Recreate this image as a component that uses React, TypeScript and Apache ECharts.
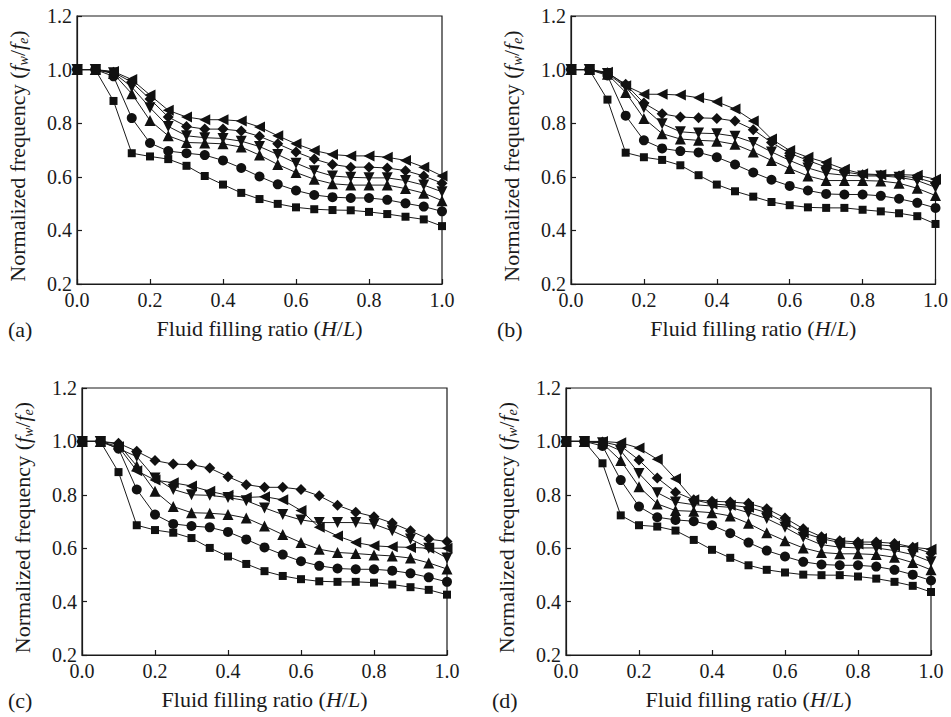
import React, { useEffect, useRef } from "react";
import * as echarts from "echarts";

// Fluid filling ratio H/L
const ratios = [0, 0.05, 0.1, 0.15, 0.2, 0.25, 0.3, 0.35, 0.4, 0.45, 0.5, 0.55, 0.6, 0.65, 0.7, 0.75, 0.8, 0.85, 0.9, 0.95, 1.0];
const xTicks = [0, 0.2, 0.4, 0.6, 0.8, 1.0];
const yTicks = [0.2, 0.4, 0.6, 0.8, 1.0, 1.2];

// Panel (a)
const sqA = [1.0, 1.0, 0.883, 0.688, 0.676, 0.666, 0.641, 0.603, 0.571, 0.540, 0.517, 0.499, 0.486, 0.479, 0.476, 0.475, 0.469, 0.461, 0.451, 0.441, 0.416];
const ciA = [1.0, 1.0, 0.975, 0.819, 0.726, 0.696, 0.688, 0.681, 0.661, 0.633, 0.601, 0.572, 0.549, 0.532, 0.524, 0.521, 0.521, 0.514, 0.501, 0.489, 0.471];
const upA = [1.0, 1.0, 0.985, 0.910, 0.810, 0.753, 0.728, 0.726, 0.723, 0.711, 0.681, 0.646, 0.616, 0.591, 0.574, 0.569, 0.569, 0.569, 0.556, 0.539, 0.511];
const dnA = [1.0, 1.0, 0.988, 0.935, 0.858, 0.788, 0.753, 0.746, 0.743, 0.733, 0.713, 0.683, 0.651, 0.623, 0.603, 0.598, 0.596, 0.596, 0.586, 0.569, 0.544];
const diA = [1.0, 1.0, 0.990, 0.953, 0.890, 0.823, 0.788, 0.778, 0.778, 0.771, 0.751, 0.723, 0.693, 0.666, 0.646, 0.636, 0.636, 0.633, 0.623, 0.603, 0.576];
const ltA = [1.0, 1.0, 0.993, 0.963, 0.905, 0.848, 0.823, 0.813, 0.813, 0.808, 0.786, 0.753, 0.723, 0.698, 0.683, 0.678, 0.678, 0.673, 0.661, 0.636, 0.603];

// Panel (b)
const sqB = [1.0, 1.0, 0.888, 0.690, 0.673, 0.663, 0.643, 0.606, 0.571, 0.546, 0.526, 0.506, 0.494, 0.486, 0.484, 0.484, 0.477, 0.471, 0.464, 0.453, 0.424];
const ciB = [1.0, 1.0, 0.978, 0.828, 0.736, 0.706, 0.696, 0.691, 0.673, 0.646, 0.616, 0.589, 0.566, 0.549, 0.536, 0.534, 0.534, 0.529, 0.518, 0.503, 0.484];
const upB = [1.0, 1.0, 0.983, 0.915, 0.818, 0.761, 0.741, 0.736, 0.733, 0.721, 0.693, 0.661, 0.631, 0.603, 0.586, 0.586, 0.586, 0.584, 0.576, 0.557, 0.530];
const dnB = [1.0, 1.0, 0.985, 0.935, 0.858, 0.798, 0.768, 0.763, 0.761, 0.751, 0.728, 0.693, 0.661, 0.633, 0.613, 0.606, 0.603, 0.603, 0.598, 0.586, 0.561];
const diB = [1.0, 1.0, 0.988, 0.945, 0.875, 0.835, 0.823, 0.820, 0.818, 0.808, 0.776, 0.728, 0.688, 0.661, 0.636, 0.618, 0.608, 0.606, 0.603, 0.596, 0.576];
const ltB = [1.0, 1.0, 0.990, 0.940, 0.908, 0.908, 0.905, 0.895, 0.880, 0.853, 0.808, 0.741, 0.698, 0.673, 0.653, 0.628, 0.611, 0.608, 0.608, 0.606, 0.591];

// Panel (c)
const sqC = [1.0, 1.0, 0.885, 0.686, 0.668, 0.658, 0.638, 0.601, 0.569, 0.541, 0.514, 0.496, 0.484, 0.476, 0.474, 0.474, 0.471, 0.464, 0.454, 0.444, 0.426];
const ciC = [1.0, 1.0, 0.973, 0.820, 0.726, 0.691, 0.683, 0.678, 0.661, 0.633, 0.603, 0.576, 0.551, 0.534, 0.524, 0.521, 0.521, 0.516, 0.506, 0.491, 0.474];
const upC = [1.0, 1.0, 0.990, 0.908, 0.813, 0.756, 0.733, 0.731, 0.726, 0.713, 0.683, 0.651, 0.621, 0.596, 0.584, 0.580, 0.575, 0.571, 0.563, 0.545, 0.522];
const dnC = [1.0, 1.0, 0.973, 0.943, 0.863, 0.820, 0.800, 0.798, 0.790, 0.778, 0.751, 0.726, 0.706, 0.696, 0.696, 0.696, 0.690, 0.665, 0.634, 0.600, 0.563];
const diC = [1.0, 1.0, 0.993, 0.963, 0.928, 0.915, 0.913, 0.900, 0.868, 0.838, 0.828, 0.828, 0.820, 0.796, 0.761, 0.735, 0.718, 0.694, 0.665, 0.634, 0.625];
const ltC = [1.0, 1.0, 0.980, 0.890, 0.855, 0.845, 0.833, 0.813, 0.798, 0.790, 0.793, 0.781, 0.741, 0.678, 0.646, 0.621, 0.609, 0.605, 0.603, 0.600, 0.600];

// Panel (d)
const sqD = [1.0, 1.0, 0.918, 0.723, 0.686, 0.681, 0.666, 0.631, 0.594, 0.564, 0.536, 0.519, 0.509, 0.501, 0.499, 0.499, 0.494, 0.486, 0.474, 0.459, 0.436];
const ciD = [1.0, 1.0, 0.983, 0.855, 0.756, 0.716, 0.706, 0.701, 0.686, 0.656, 0.621, 0.591, 0.569, 0.549, 0.539, 0.536, 0.536, 0.531, 0.519, 0.501, 0.479];
const upD = [1.0, 1.0, 0.993, 0.928, 0.830, 0.766, 0.741, 0.738, 0.733, 0.721, 0.693, 0.658, 0.628, 0.601, 0.584, 0.579, 0.579, 0.576, 0.566, 0.546, 0.519];
const dnD = [1.0, 1.0, 0.995, 0.965, 0.880, 0.808, 0.773, 0.763, 0.758, 0.753, 0.733, 0.711, 0.678, 0.641, 0.613, 0.604, 0.601, 0.601, 0.591, 0.576, 0.549];
const diD = [1.0, 1.0, 0.998, 0.983, 0.930, 0.863, 0.810, 0.781, 0.776, 0.773, 0.768, 0.748, 0.713, 0.673, 0.643, 0.628, 0.623, 0.623, 0.618, 0.604, 0.581];
const ltD = [1.0, 1.0, 1.0, 0.995, 0.975, 0.933, 0.860, 0.781, 0.766, 0.761, 0.753, 0.733, 0.696, 0.658, 0.636, 0.621, 0.616, 0.613, 0.608, 0.604, 0.596];

const panelLabels = ["(a)", "(b)", "(c)", "(d)"];
const panelSeries = [
  [sqA, ciA, upA, dnA, diA, ltA],
  [sqB, ciB, upB, dnB, diB, ltB],
  [sqC, ciC, upC, dnC, diC, ltC],
  [sqD, ciD, upD, dnD, diD, ltD],
];
const seriesNames = ["square", "circle", "triangle-up", "triangle-down", "diamond", "triangle-left"];

const FONT = '"Liberation Serif", "Times New Roman", serif';
const INK = "#1a1a1a";

const markers = [
  { symbol: "rect", size: 8, rotate: 0 },
  { symbol: "circle", size: 10, rotate: 0 },
  { symbol: "triangle", size: 11, rotate: 0 },
  { symbol: "triangle", size: 11, rotate: 180 },
  { symbol: "diamond", size: 11, rotate: 0 },
  { symbol: "triangle", size: 11, rotate: 90 },
];

// layout of each panel: grid rect and panel label position
const grids = [
  { left: 77, top: 16, width: 365, height: 268, lx: 8, ly: 330 },
  { left: 571, top: 16, width: 365, height: 268, lx: 497, ly: 330 },
  { left: 82, top: 388, width: 365, height: 267, lx: 8, ly: 701 },
  { left: 566, top: 388, width: 365, height: 267, lx: 492, ly: 701 },
];

export default function App() {
  const ref = useRef<HTMLDivElement>(null);

  useEffect(() => {
    document.body.style.margin = "0";
    if (!ref.current) return;
    const chart = echarts.init(ref.current, null, { renderer: "svg" });

    const richBase = {
      i: { fontFamily: FONT, fontSize: 22, fontStyle: "italic", color: INK },
      s: { fontFamily: FONT, fontSize: 14, fontStyle: "italic", color: INK, padding: [11, 0, 0, 0] },
    };

    const option: any = {
      animation: false,
      backgroundColor: "#ffffff",
      grid: grids.map((g) => ({
        left: g.left,
        top: g.top,
        width: g.width,
        height: g.height,
        show: true,
        borderColor: INK,
        borderWidth: 1.2,
        backgroundColor: "transparent",
      })),
      xAxis: grids.map((_, k) => ({
        type: "value",
        gridIndex: k,
        min: xTicks[0],
        max: xTicks[xTicks.length - 1],
        interval: 0.2,
        name: "Fluid filling ratio ({i|H}/{i|L})",
        nameLocation: "middle",
        nameGap: 33,
        nameTextStyle: { fontFamily: FONT, fontSize: 22, color: INK, rich: richBase },
        axisLine: { show: true, lineStyle: { color: INK, width: 1.2 } },
        axisTick: { show: true, inside: true, length: 5, lineStyle: { color: INK, width: 1.2 } },
        splitLine: { show: false },
        axisLabel: {
          margin: 6,
          fontFamily: FONT,
          fontSize: 20,
          color: INK,
          formatter: (v: number) => v.toFixed(1),
        },
      })),
      yAxis: grids.map((_, k) => ({
        type: "value",
        gridIndex: k,
        min: yTicks[0],
        max: yTicks[yTicks.length - 1],
        interval: 0.2,
        name: "Normalized frequency ({i|f}{s|w}/{i|f}{s|e})",
        nameLocation: "middle",
        nameRotate: 90,
        nameGap: 47,
        nameTextStyle: {
          fontFamily: FONT,
          fontSize: 22,
          color: INK,
          rich: richBase,
          padding: [0, 12, 0, 0],
        },
        axisLine: { show: true, lineStyle: { color: INK, width: 1.2 } },
        axisTick: { show: true, inside: true, length: 5, lineStyle: { color: INK, width: 1.2 } },
        splitLine: { show: false },
        axisLabel: {
          margin: 5,
          fontFamily: FONT,
          fontSize: 20,
          color: INK,
          formatter: (v: number) => v.toFixed(1),
        },
      })),
      series: panelSeries.flatMap((group, k) =>
        group.map((vals, j) => ({
          type: "line",
          name: `${panelLabels[k]} ${seriesNames[j]}`,
          xAxisIndex: k,
          yAxisIndex: k,
          data: ratios.map((x, i) => [x, vals[i]]),
          symbol: markers[j].symbol,
          symbolSize: markers[j].size,
          symbolRotate: markers[j].rotate,
          showAllSymbol: true,
          lineStyle: { color: INK, width: 1 },
          itemStyle: { color: "#111111", borderWidth: 0 },
          emphasis: { disabled: true },
          z: 3,
        }))
      ),
      graphic: grids.map((g, k) => ({
        type: "text",
        left: g.lx,
        top: g.ly - 12,
        style: {
          text: panelLabels[k],
          fontFamily: FONT,
          fontSize: 22,
          fill: INK,
        },
      })),
    };

    chart.setOption(option);
    return () => chart.dispose();
  }, []);

  return <div ref={ref} style={{ width: 951, height: 717 }} />;
}
